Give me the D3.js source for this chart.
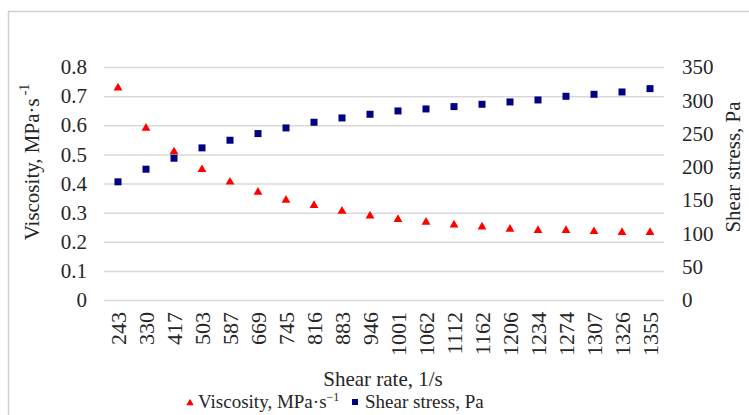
<!DOCTYPE html>
<html>
<head>
<meta charset="utf-8">
<title>Viscosity and shear stress</title>
<script src="https://cdn.jsdelivr.net/npm/d3@7"></script>
<style>
  body { margin: 0; background: #fff; }
</style>
</head>
<body>
<svg id="chart" width="749" height="415"></svg>
<script>
// shear rate categories (1/s)
const shearRates = ["243","330","417","503","587","669","745","816","883","946",
                    "1001","1062","1112","1162","1206","1234","1274","1307","1326","1355"];
// viscosity, MPa·s^-1 (left axis)
const viscosity = [0.728, 0.59, 0.509, 0.448, 0.405, 0.370, 0.343, 0.325, 0.305, 0.289,
                   0.277, 0.267, 0.258, 0.251, 0.243, 0.239, 0.239, 0.235, 0.232, 0.232];
// shear stress, Pa (right axis)
const shearStress = [177.5, 196.5, 213, 228.5, 240, 250, 258.5, 267, 273.5, 279,
                     284, 287, 290.5, 294, 297.5, 300.5, 306, 309, 312.5, 317.5];
const leftTicks = [0, 0.1, 0.2, 0.3, 0.4, 0.5, 0.6, 0.7, 0.8];
const rightTicks = [0, 50, 100, 150, 200, 250, 300, 350];

const FONT = '"Liberation Serif", "Times New Roman", serif';
const INK = "#262626";

const svg = d3.select("#chart");

// outer frame (only top/left edges visible in the picture)
svg.append("rect")
  .attr("x", 8.5).attr("y", 11.5)
  .attr("width", 760).attr("height", 420)
  .attr("fill", "none").attr("stroke", "#d0d0d0").attr("stroke-width", 1.5);

const plotL = 104, plotR = 664, plotT = 67, plotB = 300;

const x = d3.scaleBand().domain(shearRates).range([plotL, plotR]);
const yL = d3.scaleLinear().domain([0, 0.8]).range([plotB, plotT]);
const yR = d3.scaleLinear().domain([0, 350]).range([plotB, plotT]);

// left axis + gridlines
const gl = svg.append("g")
  .attr("transform", "translate(" + plotL + ",0)")
  .call(d3.axisLeft(yL).tickValues(leftTicks).tickSize(-(plotR - plotL)).tickPadding(17)
        .tickFormat(d => d === 0 ? "0" : d3.format(".1f")(d)));
gl.attr("font-family", null);
gl.select(".domain").remove();
gl.selectAll("line").attr("stroke", "#d9d9d9").attr("stroke-width", 1.5);
gl.selectAll("text").style("font-family", FONT).style("font-size", "21px").attr("fill", INK);

// right axis
const gr = svg.append("g")
  .attr("transform", "translate(" + plotR + ",0)")
  .call(d3.axisRight(yR).tickValues(rightTicks).tickSize(0).tickPadding(18));
gr.attr("font-family", null);
gr.select(".domain").remove();
gr.selectAll("text").style("font-family", FONT).style("font-size", "21px").attr("fill", INK);

// bottom axis, labels rotated
const gb = svg.append("g")
  .attr("transform", "translate(0," + plotB + ")")
  .call(d3.axisBottom(x).tickSize(0));
gb.attr("font-family", null);
gb.select(".domain").remove();
gb.selectAll("text")
  .attr("transform", "rotate(-90)")
  .attr("text-anchor", "end")
  .attr("x", -12).attr("y", 0).attr("dy", "0.35em")
  .style("font-family", FONT).style("font-size", "22px").attr("fill", INK);

// axis titles
const lt = svg.append("text")
  .attr("transform", "translate(39,162) rotate(-90)")
  .attr("text-anchor", "middle")
  .style("font-family", FONT).style("font-size", "21px").attr("fill", INK);
lt.append("tspan").text("Viscosity, MPa·s");
lt.append("tspan").attr("dx", 3).attr("dy", -10).style("font-size", "14px").text("-1");

svg.append("text")
  .attr("transform", "translate(740,167) rotate(-90)")
  .attr("text-anchor", "middle")
  .style("font-family", FONT).style("font-size", "21px").attr("fill", INK)
  .text("Shear stress, Pa");

svg.append("text")
  .attr("x", 383).attr("y", 386)
  .attr("text-anchor", "middle")
  .style("font-family", FONT).style("font-size", "21px").attr("fill", INK)
  .text("Shear rate, 1/s");

// markers
svg.append("g").selectAll("path")
  .data(shearRates)
  .join("path")
  .attr("transform", (d, i) => "translate(" + (x(d) + x.bandwidth() / 2) + "," + yL(viscosity[i]) + ")")
  .attr("d", d3.symbol(d3.symbolTriangle, 34))
  .attr("fill", "#ff0000");

svg.append("g").selectAll("rect")
  .data(shearRates)
  .join("rect")
  .attr("x", d => x(d) + x.bandwidth() / 2 - 3.5)
  .attr("y", (d, i) => yR(shearStress[i]) - 3.5)
  .attr("width", 7).attr("height", 7)
  .attr("fill", "#000080");

// legend
svg.append("path")
  .attr("transform", "translate(190,403)")
  .attr("d", d3.symbol(d3.symbolTriangle, 24))
  .attr("fill", "#ff0000");
const lg = svg.append("text")
  .attr("x", 198).attr("y", 408)
  .style("font-family", FONT).style("font-size", "19px").attr("fill", INK);
lg.append("tspan").text("Viscosity, MPa·s");
lg.append("tspan").attr("dy", -7).style("font-size", "12px").text("−1");
svg.append("rect")
  .attr("x", 352).attr("y", 399).attr("width", 6).attr("height", 6)
  .attr("fill", "#000080");
svg.append("text")
  .attr("x", 365).attr("y", 408)
  .style("font-family", FONT).style("font-size", "19px").attr("fill", INK)
  .text("Shear stress, Pa");
</script>
</body>
</html>
